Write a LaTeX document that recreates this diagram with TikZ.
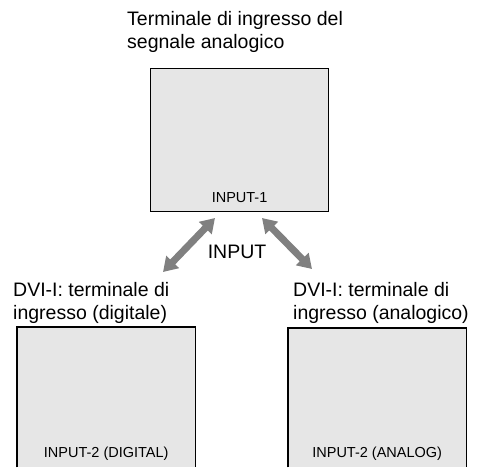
\documentclass[tikz,border=0pt]{standalone}
\usepackage{fontspec}
\setmainfont{Liberation Sans}
\usetikzlibrary{positioning,arrows.meta}
\definecolor{panelgray}{RGB}{230,230,230}
\definecolor{arrowgray}{RGB}{128,128,128}
\tikzset{
  panel/.style={fill=panelgray, minimum width=178pt, inner sep=0pt, anchor=north west},
  caption/.style={font=\fontsize{19.5}{23.5}\selectfont, align=left, inner sep=0pt, anchor=north west},
  tag/.style={font=\fontsize{14.5}{17}\selectfont, inner sep=0pt},
  bigarrow/.style={draw=arrowgray, line width=7pt,
    {Triangle[width=17pt,length=14pt]}-{Triangle[width=17pt,length=14pt]}}
}
\begin{document}
\begin{tikzpicture}[x=1pt,y=-1pt]
    \useasboundingbox (0,0) rectangle (477,467);
    % analog input on top
    \node[caption] (capA) at (127,11) {Terminale di ingresso del\\segnale analogico};
    \node[panel, draw, line width=1.1pt, minimum height=143pt] (in1) at (150,68) {};
    \node[tag, above=9pt of in1.south] (tag1) {INPUT-1};
    % the two DVI-I inputs, cut off at the bottom edge
    \node[caption] (capD) at (13,282) {DVI-I: terminale di\\ingresso (digitale)};
    \node[panel, minimum height=140pt] (in2d) at (17,327) {};
    \draw[line width=1.1pt] (in2d.south west) -- (in2d.north west) -- (in2d.north east) -- (in2d.south east);
    \node[tag, above=7pt of in2d.south] (tag2d) {INPUT-2 (DIGITAL)};
    \node[caption] (capN) at (293,282) {DVI-I: terminale di\\ingresso (analogico)};
    \node[panel, minimum height=139pt] (in2a) at (288,328) {};
    \draw[line width=1.1pt] (in2a.south west) -- (in2a.north west) -- (in2a.north east) -- (in2a.south east);
    \node[tag, above=7pt of in2a.south] (tag2a) {INPUT-2 (ANALOG)};
    % INPUT switching arrows
    \node[font=\fontsize{19.5}{22}\selectfont, inner sep=0pt] (sel) at (237,252) {INPUT};
    \coordinate (l1) at (215,218);
    \coordinate (l2) at (163,272);
    \coordinate (r1) at (262,218);
    \coordinate (r2) at (312,269);
    \draw[bigarrow] (l1) -- (l2);
    \draw[bigarrow] (r1) -- (r2);
\end{tikzpicture}
\end{document}
